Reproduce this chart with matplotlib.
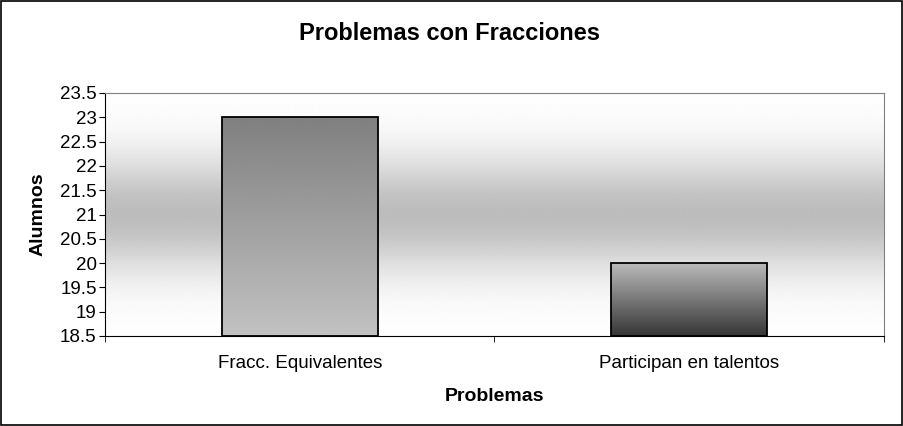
import matplotlib
matplotlib.use('Agg')
import matplotlib.pyplot as plt
from matplotlib.patches import Rectangle
import numpy as np

categorias = ['Fracc. Equivalentes', 'Participan en talentos']
alumnos = [23, 20]
y_ticks = [18.5, 19, 19.5, 20, 20.5, 21, 21.5, 22, 22.5, 23, 23.5]

plt.rcParams['font.family'] = ['Liberation Sans', 'DejaVu Sans']

fig = plt.figure(figsize=(9.04, 4.26), dpi=100)
fig.patch.set_facecolor('white')
fig.add_artist(Rectangle((0.001, 0.002), 0.997, 0.996, transform=fig.transFigure,
                         fill=False, edgecolor='black', linewidth=1.2))

ax = fig.add_axes([105/904, 90/426, 779/904, 243/426])

ymin, ymax = 18.5, 23.5
x = np.arange(len(categorias))
ax.set_xlim(-0.5, len(categorias) - 0.5)
ax.set_ylim(ymin, ymax)

# background gradient: white top, grey middle, white bottom
t = np.linspace(0, 1, 256)
bg = 1.0 - 0.26 * np.exp(-((t - 0.5) / 0.24) ** 2)
ax.imshow(bg[:, None], extent=(-0.5, len(categorias) - 0.5, ymin, ymax), aspect='auto',
          cmap='gray', vmin=0, vmax=1, origin='upper', zorder=0, interpolation='bilinear')

bars = ax.bar(x, np.array(alumnos) - ymin, bottom=ymin, width=0.4,
              facecolor='none', edgecolor='black', linewidth=1.3, zorder=3)

# bar gradients (top -> bottom)
grads = [(0.50, 0.76), (0.73, 0.21)]
for b, (top, bot) in zip(bars, grads):
    g = np.linspace(top, bot, 256)[:, None]
    x0 = b.get_x()
    im = ax.imshow(g, extent=(x0, x0 + b.get_width(), b.get_y(), b.get_y() + b.get_height()),
                   aspect='auto', cmap='gray', vmin=0, vmax=1, origin='upper', zorder=2,
                   interpolation='bilinear')
    im.set_clip_path(b)

ax.set_yticks(y_ticks)
ax.set_yticklabels([f'{v:g}' for v in y_ticks])
ax.set_xticks([-0.5, 0.5, 1.5], minor=True)
ax.set_xticks(x)
ax.set_xticklabels(categorias)
ax.tick_params(axis='x', which='major', length=0, pad=14, labelsize=13.5)
ax.tick_params(axis='x', which='minor', length=4, color='black')
ax.tick_params(axis='y', length=4, labelsize=13.5, pad=2)

for s in ['top', 'right']:
    ax.spines[s].set_color('#808080')
for s in ['left', 'bottom']:
    ax.spines[s].set_color('black')

ax.set_ylabel('Alumnos', fontsize=14, fontweight='bold', labelpad=10)
ax.set_xlabel('Problemas', fontsize=14, fontweight='bold', labelpad=11)
fig.text(450/904, 1 - 33/426, 'Problemas con Fracciones', ha='center', va='center',
         fontsize=17, fontweight='bold')

fig.savefig('out.png', dpi=100)
